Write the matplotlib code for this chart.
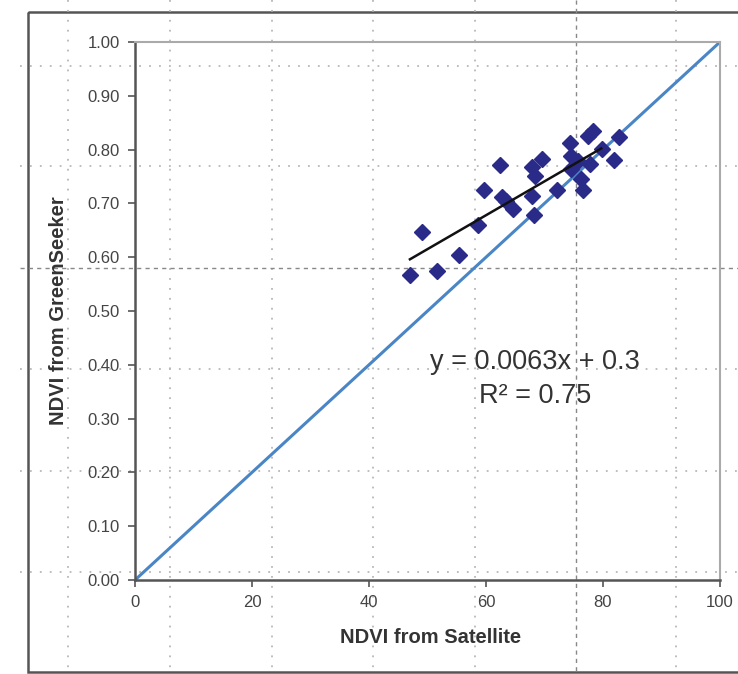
import numpy as np
import matplotlib
matplotlib.use("Agg")
import matplotlib.pyplot as plt
from matplotlib.patches import Rectangle

# values
sat_ndvi = [47.0, 49.0, 51.7, 55.4, 58.6, 59.7, 62.4, 62.8, 63.4, 64.7,
            67.8, 68.4, 69.5, 67.8, 68.2, 72.1, 74.4, 74.5, 74.6, 75.8,
            76.3, 76.5, 77.5, 78.3, 77.8, 79.9, 81.8, 82.8]
gs_ndvi = [0.566, 0.646, 0.575, 0.605, 0.660, 0.724, 0.772, 0.712, 0.705, 0.690,
           0.767, 0.751, 0.782, 0.714, 0.679, 0.724, 0.813, 0.788, 0.764, 0.779,
           0.745, 0.724, 0.826, 0.835, 0.773, 0.801, 0.781, 0.824]
trend_slope = 0.0063
trend_icpt = 0.3
trend_x = [47.0, 79.7]
r_squared = 0.75
one_to_one_x = [0, 100]
one_to_one_y = [0.0, 1.0]
x_ticks = [0, 20, 40, 60, 80, 100]
y_ticks = [0.0, 0.1, 0.2, 0.3, 0.4, 0.5, 0.6, 0.7, 0.8, 0.9, 1.0]

plt.rcParams['font.family'] = ['Liberation Sans', 'DejaVu Sans']

W, H = 738, 674
fig = plt.figure(figsize=(W / 100, H / 100), dpi=100)
fig.patch.set_facecolor('white')

# background layer in pixel coords: outer frame + the dotted paper grid of the scan
bg = fig.add_axes([0, 0, 1, 1], zorder=0)
bg.set_xlim(0, W)
bg.set_ylim(H, 0)
bg.axis('off')
bg.add_patch(Rectangle((28, 12), 740, 660, fill=False, edgecolor='#555555', lw=1.8))
for gx in [68, 170, 272, 373, 475, 676]:
    bg.plot([gx, gx], [0, H], color='#b8b8b8', lw=1.3, ls=(0, (1, 4.5)))
for gy in [66, 166, 369, 471, 572]:
    bg.plot([20, W], [gy, gy], color='#b8b8b8', lw=1.3, ls=(0, (1, 4.5)))
bg.plot([576, 576], [0, H], color='#888888', lw=1.0, ls=(0, (3, 3)))
bg.plot([20, W], [268, 268], color='#888888', lw=1.0, ls=(0, (3, 3)))

ax = fig.add_axes([135 / W, (H - 580) / H, 585 / W, 538 / H], zorder=1)
ax.set_facecolor('none')

ax.plot(one_to_one_x, one_to_one_y, color='#4a86c5', lw=2.2, zorder=2)
ax.plot(sat_ndvi, gs_ndvi, ls='none', marker='D', markersize=8,
        color='#2a2a88', markeredgecolor='#2a2a88', zorder=3)
tx = np.array(trend_x)
ax.plot(tx, trend_slope * tx + trend_icpt, color='#111111', lw=1.8, zorder=4)

ax.text(68.4, 0.405, 'y = 0.0063x + 0.3', ha='center', va='center',
        fontsize=19.5, color='#333333')
ax.text(68.4, 0.342, 'R\u00b2 = %.2f' % r_squared, ha='center', va='center',
        fontsize=19.5, color='#333333')

ax.set_xlim(0, 100)
ax.set_ylim(0, 1.0)
ax.set_xticks(x_ticks)
ax.set_yticks(y_ticks)
ax.set_yticklabels(['%.2f' % v for v in y_ticks])
ax.tick_params(axis='both', direction='out', length=5, width=1.2,
               color='#555555', labelsize=12, labelcolor='#444444', pad=6)

for side in ['left', 'bottom']:
    ax.spines[side].set_color('#555555')
    ax.spines[side].set_linewidth(1.8)
for side in ['top', 'right']:
    ax.spines[side].set_color('#aaaaaa')
    ax.spines[side].set_linewidth(1.5)

ax.set_xlabel('NDVI from Satellite', fontsize=14.5, fontweight='bold', color='#333333')
ax.set_ylabel('NDVI from GreenSeeker', fontsize=14.5, fontweight='bold', color='#333333')
ax.xaxis.set_label_coords(0.505, -0.106)
ax.yaxis.set_label_coords(-0.115, 0.5)
ax.xaxis.label.set_va('center')

fig.savefig('out.png', dpi=100)
